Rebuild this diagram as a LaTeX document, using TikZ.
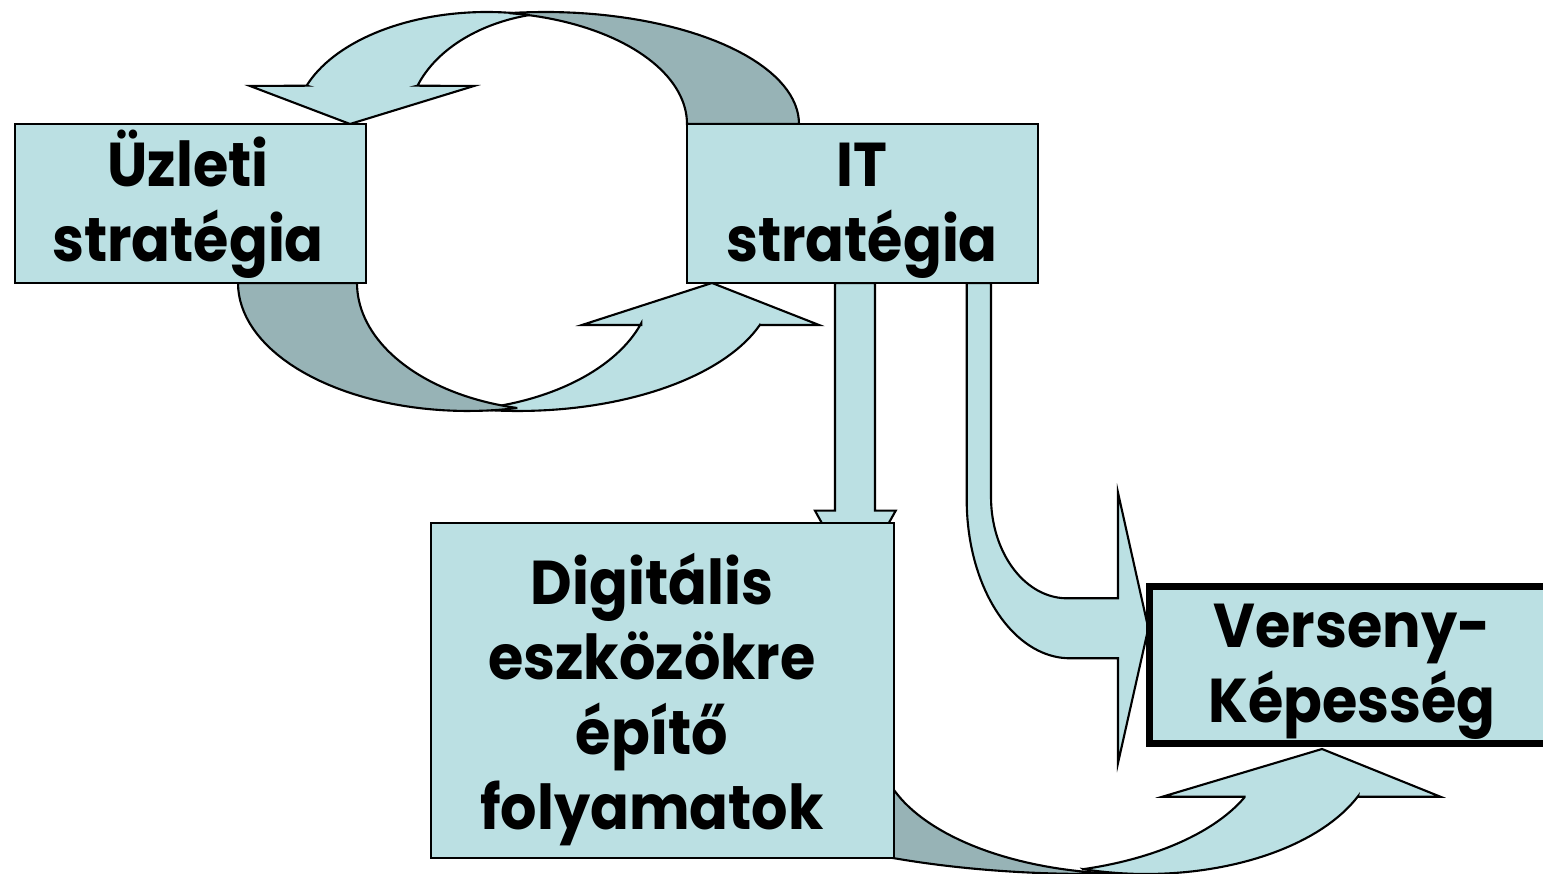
\documentclass[tikz,border=0pt]{standalone}
\usepackage{fontspec}
\setmainfont{Poppins}[FakeStretch=0.925]
\usepackage{tikz}
\usetikzlibrary{calc}

\definecolor{lightteal}{RGB}{187,224,227}
\definecolor{darkteal}{RGB}{151,179,182}

\begin{document}
\begin{tikzpicture}[x=0.01cm, y=-0.01cm,
        box/.style={draw, fill=lightteal, line width=0.6pt, inner sep=0pt},
        front/.style={draw, fill=lightteal, line width=0.6pt},
        back/.style={draw, fill=darkteal, line width=0.6pt},
        arcplot/.style={samples=40, variable=\t},
        lbl/.style={align=center, anchor=base, inner sep=0pt,
            font=\fontsize{17.6}{21.4}\selectfont\bfseries}]
        \useasboundingbox (0,0) rectangle (1543,874);

        % IT -> uzleti (top ring)
        \draw[front] (306.6,85.7) -- (250,86) -- (350,124) -- (474,86) -- (417.5,85.7)
            -- plot[arcplot, domain=160:103] ({566+158*cos(\t)},{124-112*sin(\t)})
            -- plot[arcplot, domain=77:160] ({487+192*cos(\t)},{124-112*sin(\t)}) -- cycle;
        \draw[back] (799,124)
            -- plot[arcplot, domain=0:98.1] ({545+254*cos(\t)},{124-112*sin(\t)})
            -- plot[arcplot, domain=81.9:0] ({480+207*cos(\t)},{124-112*sin(\t)}) -- cycle;

        % uzleti -> IT (bottom ring)
        \draw[front] (641.4,325) -- (582,325) -- (712,283) -- (819,325) -- (760,325)
            -- plot[arcplot, domain=19.1:99.6] ({518+256*cos(\t)},{283+128*sin(\t)})
            -- plot[arcplot, domain=80.4:18.2] ({440+212*cos(\t)},{283+128*sin(\t)}) -- cycle;
        \draw[back] (238,283)
            -- plot[arcplot, domain=180:77.6] ({468+230*cos(\t)},{283+128*sin(\t)})
            -- plot[arcplot, domain=102.4:180] ({561+204*cos(\t)},{283+128*sin(\t)}) -- cycle;

        % IT -> digitalis
        \draw[front] (835,283) -- (835,510.7) -- (815,510.7) -- (855,583)
            -- (895.7,510.7) -- (875,510.7) -- (875,283) -- cycle;

        % IT -> verseny (bent)
        \draw[front] (966.7,283) -- (966.7,500)
            -- plot[arcplot, domain=180:90] ({1070+103.3*cos(\t)},{500+158.3*sin(\t)})
            -- (1118,658.3) -- (1118,763) -- (1148.3,628.3) -- (1118,492.7) -- (1118,598.3)
            -- plot[arcplot, domain=90:180] ({1067+76*cos(\t)},{497+101.3*sin(\t)})
            -- (991,283) -- cycle;

        % digitalis -> verseny
        \draw[front] (1244.5,796.7) -- (1162.5,796.7) -- (1322,749) -- (1440.3,796.7) -- (1357.8,796.7)
            -- plot[arcplot, domain=22.9:105.9] ({1146+230*cos(\t)},{747+127*sin(\t)})
            -- plot[arcplot, domain=74.2:23.4] ({1015+250*cos(\t)},{747+127*sin(\t)}) -- cycle;
        \draw[back] (881,856)
            -- plot[arcplot, domain=121:86.3] ({1090+406*cos(\t)},{747+127*sin(\t)})
            -- plot[arcplot, domain=93.6:175] ({1132+253*cos(\t)},{747+127*sin(\t)}) -- cycle;

        % boxes
        \node[box, minimum width=3.51cm, minimum height=1.59cm] (uzleti) at (190.5,203.5) {};
        \node[box, minimum width=3.51cm, minimum height=1.59cm] (it) at (862.5,203.5) {};
        \node[box, minimum width=4.63cm, minimum height=3.35cm] (digitalis) at (662.5,690.5) {};
        \node[box, line width=2pt, minimum width=4cm, minimum height=1.56cm] (verseny) at (1350,665) {};

        % text, anchored at the last baseline
        \node[lbl] (uzletitext) at (188,262) {Üzleti\\stratégia};
        \node[lbl] (ittext) at (862,262) {IT\\stratégia};
        \node[lbl] (digitalistext) at (652,830) {Digitális\\eszközökre\\építő\\folyamatok};
        \node[lbl] (versenytext) at (1352,723) {Verseny-\\Képesség};
\end{tikzpicture}
\end{document}
